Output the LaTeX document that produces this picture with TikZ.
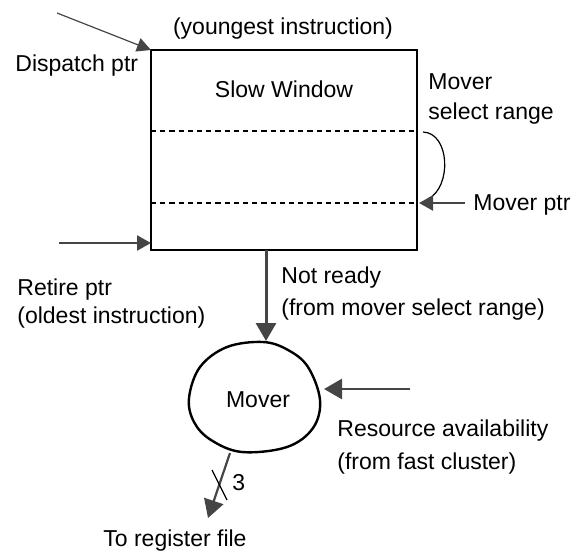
\documentclass[tikz,border=0pt]{standalone}
\usepackage{fontspec}
\setmainfont{Liberation Sans}
\usetikzlibrary{arrows.meta}
\definecolor{arr}{HTML}{454545}
\begin{document}
\begin{tikzpicture}[x=0.5pt,y=-0.5pt,
  txt/.style={inner sep=0pt, font=\fontsize{11.5}{14}\selectfont},
  arrow/.style={draw=arr, line width=1pt, -{Triangle[length=7pt,width=7.5pt]}},
  bigarrow/.style={draw=arr, line width=1.5pt, -{Triangle[length=9pt,width=10pt]}},
  thinarrow/.style={draw=arr, line width=0.6pt, -{Triangle[length=7pt,width=7pt]}},
  box/.style={draw=black, line width=1.2pt, inner sep=0pt, outer sep=0pt, minimum width=133pt, minimum height=100pt},
  sep/.style={draw=black, line width=0.7pt, dash pattern=on 2.6pt off 2pt},
  blob/.style={draw=black, line width=1.2pt}
]
\useasboundingbox (0,0) rectangle (576,552);

% slow window
\node[box] (win) at (284,150) {};
\draw[sep] (win.west |- 0,131) -- (win.east |- 0,131);
\draw[sep] (win.west |- 0,203) -- (win.east |- 0,203);
\node[txt, anchor=base] (slow) at (284,97) {Slow Window};
\node[txt, anchor=base] (young) at (283,34) {(youngest instruction)};

% dispatch ptr
\coordinate (dstart) at (57,13);
\draw[thinarrow] (dstart) -- (win.north west);
\node[txt, anchor=base west] (disp) at (15,71) {Dispatch ptr};

% retire ptr
\coordinate (rstart) at (59,243);
\coordinate (rend) at (151,243);
\draw[arrow, line width=1.1pt] (rstart) -- (rend);
\node[txt, anchor=base west] (ret1) at (17,295) {Retire ptr};
\node[txt, anchor=base west] (ret2) at (17,323) {(oldest instruction)};

% mover select range
\node[txt, anchor=base west] (msr1) at (428,89) {Mover};
\node[txt, anchor=base west] (msr2) at (428,119) {select range};
\coordinate (cstart) at (423,132);
\coordinate (cend) at (428,199);
\draw[black, line width=0.6pt] (cstart) .. controls (450,133) and (452,187) .. (cend);

% mover ptr
\coordinate (mpstart) at (465,203);
\coordinate (mpend) at (419,203);
\draw[arrow, line width=1.1pt] (mpstart) -- (mpend);
\node[txt, anchor=base west] (mptr) at (473,210) {Mover ptr};

% mover blob
\draw[blob] plot[smooth cycle, tension=0.6] coordinates {(263,342) (227,347) (200,367) (189,398) (194,422) (211,440) (242,452) (287,447) (313,428) (320,400) (308,367) (288,350)};
\node[txt, anchor=base] (mover) at (258,407) {Mover};
\coordinate (mtop) at (266,341);
\coordinate (mright) at (324,389);
\coordinate (mout) at (230,453);

% not ready
\coordinate (nrstart) at (266,250);
\draw[bigarrow] (nrstart) -- (mtop);
\node[txt, anchor=base west] (nr1) at (281,283) {Not ready};
\node[txt, anchor=base west] (nr2) at (281,315) {(from mover select range)};

% resource availability
\coordinate (rastart) at (410,389);
\draw[bigarrow, line width=1.4pt] (rastart) -- (mright);
\node[txt, anchor=base west] (ra1) at (337,436) {Resource availability};
\node[txt, anchor=base west] (ra2) at (337,469) {(from fast cluster)};

% to register file
\coordinate (regend) at (208,518);
\draw[bigarrow, line width=1.1pt] (mout) -- (regend);
\coordinate (s1) at (212,470);
\coordinate (s2) at (227,500);
\draw[black, line width=0.6pt] (s1) -- (s2);
\node[txt, anchor=base west] (three) at (232,490) {3};
\node[txt, anchor=base west] (reg) at (103,546) {To register file};
\end{tikzpicture}
\end{document}
